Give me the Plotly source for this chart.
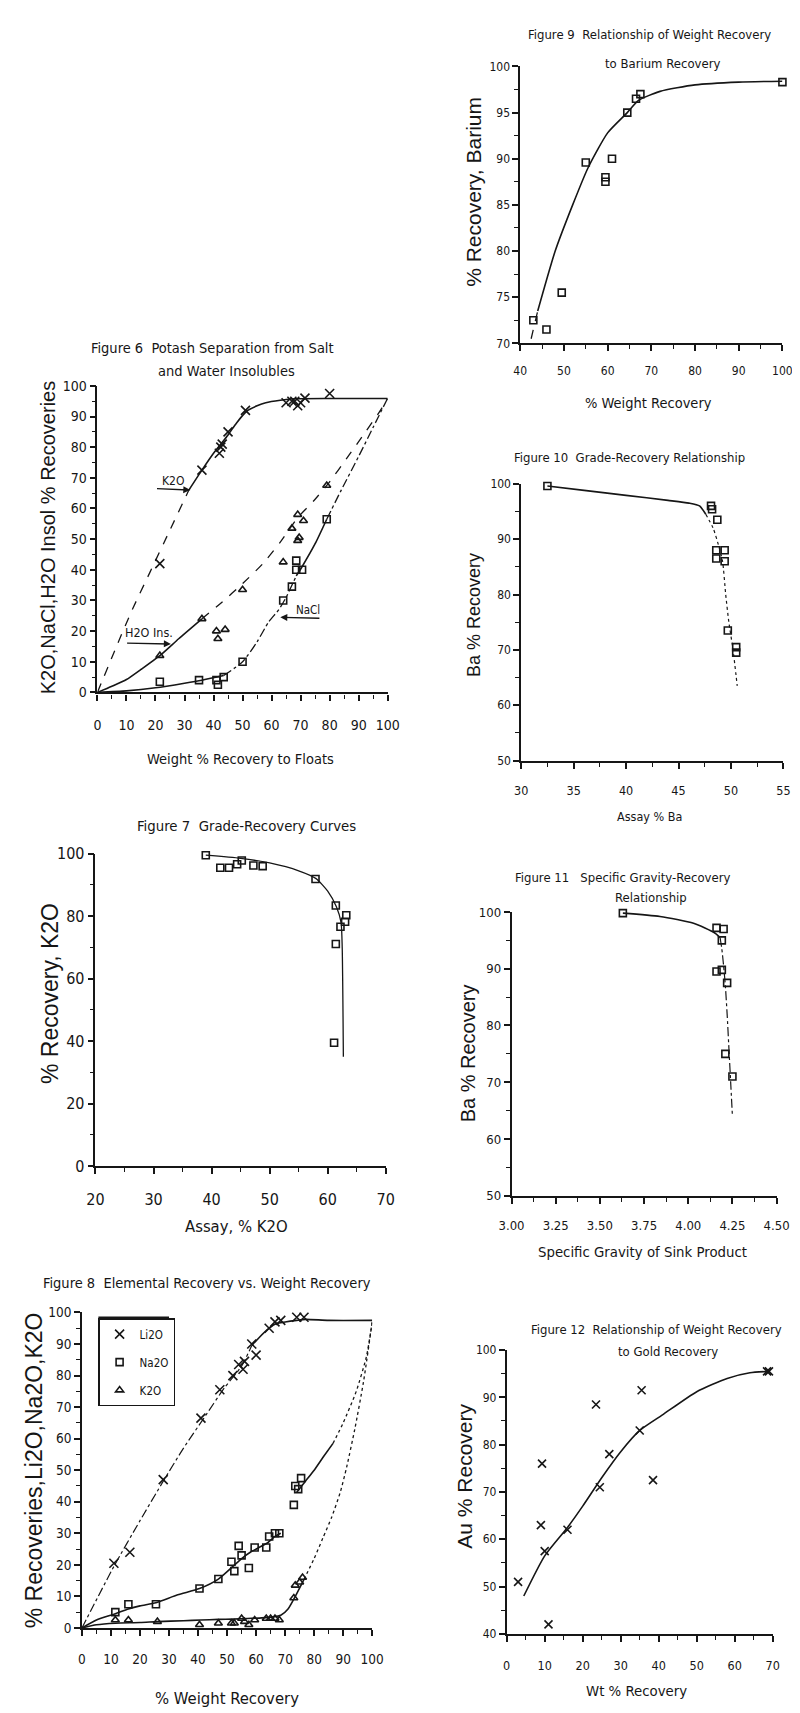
import plotly.graph_objects as go

W, H = 800, 1713
NARROW = "DejaVu Sans Condensed, Liberation Sans Narrow, Liberation Sans, Arial, sans-serif"
REG = "Liberation Sans, Arial, sans-serif"
INK = "#161616"

# ---------------- Figure 6: Potash separation ----------------
f6_k2o_x = [21.5, 36, 42, 42.5, 43, 45, 51, 65, 67, 68, 69, 70, 71.5, 80]
f6_k2o_y = [42, 72.5, 78, 80, 81, 85, 92, 94.5, 95, 95, 93.5, 94.5, 96, 97.5]
f6_h2o_x = [21.5, 36, 41, 41.5, 44, 50, 64, 67, 69, 71, 69, 69.5, 79]
f6_h2o_y = [12, 24, 20, 17.5, 20.5, 33.5, 42.5, 53.5, 58, 56, 49.5, 50.5, 67.5]
f6_nacl_x = [21.5, 35, 41, 41.5, 43.5, 50, 64, 67, 68.5, 68.5, 70.5, 79]
f6_nacl_y = [3.5, 4, 4, 2.5, 5, 10, 30, 34.5, 43, 40, 40, 56.5]
f6_k2o_fit_dash_x = [0, 7, 12, 18, 25, 31.5]
f6_k2o_fit_dash_y = [0, 16, 27, 39, 53, 66]
f6_k2o_fit_x = [31.5, 36, 40, 45, 48, 51.5, 55, 58, 63, 68, 80, 100]
f6_k2o_fit_y = [66, 72.5, 78, 84, 88, 91.8, 93.5, 94.5, 95.3, 95.8, 95.9, 95.9]
f6_h2o_fit_x = [0, 5, 10, 15, 21.5, 28, 36]
f6_h2o_fit_y = [0, 2, 4.2, 7.5, 12, 17.5, 24]
f6_h2o_fit_dash_x = [36, 43, 50, 57, 63, 69, 75, 80, 86, 92, 97, 100]
f6_h2o_fit_dash_y = [24, 29.5, 35.5, 42, 49, 57, 63, 68.7, 76.5, 84.5, 91.3, 95.8]
f6_nacl_fit_x = [0, 10, 20, 30, 36, 43.5]
f6_nacl_fit_y = [0, 0.5, 1.5, 3, 4, 5.5]
f6_nacl_fit_dd_x = [43.5, 50, 55, 59, 62.5, 65, 68.5]
f6_nacl_fit_dd_y = [5.5, 10, 16.5, 23, 27, 31, 38]
f6_nacl_fit2_x = [68.5, 70.5, 75, 79]
f6_nacl_fit2_y = [38, 41, 48.5, 56.5]
f6_nacl_fit_dd2_x = [79, 84, 90, 95, 100]
f6_nacl_fit_dd2_y = [56.5, 66, 77, 86.5, 96]

# ---------------- Figure 7: Grade-recovery K2O ----------------
f7_assay = [39, 41.5, 43, 44.4, 45.2, 47.2, 48.8, 57.9, 61.4, 62.2, 63.2, 63.0, 61.4, 61.1]
f7_recovery = [99.5, 95.5, 95.5, 96.6, 97.8, 96.2, 96.0, 91.9, 83.4, 76.6, 80.3, 78.2, 71.1, 39.5]
f7_fit_x = [39, 45, 50, 55, 58, 60, 61.5, 62.3, 62.5, 62.7]
f7_fit_y = [99.5, 98.5, 97, 94.5, 92, 88, 83, 78, 70, 35]

# ---------------- Figure 8: Elemental recovery ----------------
f8_li2o_x = [11, 16.5, 28, 41, 47.5, 52, 54, 55.5, 56, 58.5, 60, 64.5, 66.5, 68.5, 74, 76.5]
f8_li2o_y = [20.5, 24, 47, 66.5, 75.5, 80, 83.5, 82, 84.5, 90, 86.5, 95, 97, 97.5, 98.5, 98.5]
f8_na2o_x = [11.5, 16, 25.5, 40.5, 47, 51.5, 52.5, 54, 55, 57.5, 59.5, 63.5, 64.5, 66.5, 68, 73, 73.5, 74.5, 75.5]
f8_na2o_y = [5, 7.5, 7.5, 12.5, 15.5, 21, 18, 26, 23, 19, 25.5, 25.5, 29, 30, 30, 39, 45, 44, 47.5]
f8_k2o_x = [11.5, 16, 26, 40.5, 47, 51.5, 52.5, 55, 56, 57.5, 59.5, 63.5, 65, 66.5, 68, 73, 73.5, 75, 76]
f8_k2o_y = [2.5, 2.5, 2, 1, 1.5, 1.5, 1.5, 3, 2, 1, 2.5, 3, 3, 3, 2.5, 9.5, 13.5, 14.5, 16]
f8_li2o_fit_dd_x = [0, 11, 20, 28, 35, 42, 49, 55, 58.5]
f8_li2o_fit_dd_y = [0, 19.5, 34, 46.5, 57, 66.5, 76, 83, 89.5]
f8_li2o_fit_x = [58.5, 61, 64.5, 67, 70, 74, 77, 85, 100]
f8_li2o_fit_y = [89.5, 92, 95, 96.5, 97, 97.5, 97.8, 97.5, 97.5]
f8_na2o_fit_x = [0, 5, 11.5, 16, 20, 25.5, 33, 40.5, 47, 52, 55, 58, 61, 64, 66.5, 68.5]
f8_na2o_fit_y = [0, 2.5, 4.5, 6, 7, 8, 10.5, 12.5, 15.5, 19.5, 22, 24, 25.5, 27, 29, 30]
f8_na2o_fit2_x = [74, 77, 80, 83, 86.5]
f8_na2o_fit2_y = [43, 46.5, 50, 54, 58.5]
f8_na2o_fit_dash_x = [86.5, 90, 94.5, 98, 100]
f8_na2o_fit_dash_y = [58.5, 65, 75, 86, 97]
f8_k2o_fit_x = [0, 5, 11.5, 20, 26, 35, 41, 47, 52, 57, 62, 66, 68.5, 71, 73.5, 76.5]
f8_k2o_fit_y = [0, 1, 1.5, 1.7, 2, 2.3, 2.5, 2.7, 2.8, 3, 3.2, 3.5, 4, 6, 10, 15.4]
f8_k2o_fit_dash_x = [76.5, 80, 83, 86, 89, 91.2, 94, 97, 100]
f8_k2o_fit_dash_y = [15.4, 22, 28.5, 35, 43, 51, 63, 78, 97]

# ---------------- Figure 9: Weight recovery vs barium recovery ----------------
f9_wt = [43, 46, 49.5, 55, 59.5, 59.5, 61, 64.5, 66.5, 67.5, 100]
f9_ba = [72.5, 71.5, 75.5, 89.6, 88, 87.5, 90, 95, 96.5, 97, 98.3]
f9_fit_dash_x = [42.5, 44]
f9_fit_dash_y = [70.5, 73.5]
f9_fit_x = [44, 48, 52, 55.5, 60, 64.5, 67, 72, 80, 90, 100]
f9_fit_y = [73.5, 80, 85, 89, 92.8, 95, 96.3, 97.3, 98, 98.3, 98.4]

# ---------------- Figure 10: Grade-recovery Ba ----------------
f10_assay = [32.5, 48.1, 48.2, 48.7, 48.6, 48.6, 49.4, 49.4, 49.7, 50.5, 50.5]
f10_recovery = [99.6, 96, 95.4, 93.5, 88, 86.5, 88, 86, 73.5, 70.5, 69.5]
f10_fit_x = [32.5, 36, 40, 44, 46, 47, 47.6]
f10_fit_y = [99.6, 98.8, 97.9, 97, 96.5, 96, 94.5]
f10_fit_dot_x = [47.6, 48.3, 48.8, 49.2, 49.5, 49.8, 50.2, 50.6]
f10_fit_dot_y = [94.5, 92, 89, 86, 80, 75, 70, 63.5]

# ---------------- Figure 11: Specific gravity vs recovery ----------------
f11_sg = [3.63, 4.16, 4.20, 4.19, 4.16, 4.19, 4.22, 4.21, 4.25]
f11_recovery = [99.8, 97.2, 97.0, 95.0, 89.5, 89.8, 87.5, 75.0, 71.0]
f11_fit_x = [3.63, 3.84, 4.03, 4.15, 4.18]
f11_fit_y = [99.8, 99.2, 98.0, 96.3, 95.5]
f11_fit_dd_x = [4.18, 4.19, 4.20, 4.21, 4.22, 4.23, 4.24, 4.25]
f11_fit_dd_y = [95.5, 93.5, 90.5, 87, 82, 76, 70, 64]

# ---------------- Figure 12: Weight recovery vs gold recovery ----------------
f12_wt = [69, 68.5, 35, 27, 24.5, 38.5, 9.3, 9, 10, 16, 3, 11, 23.5, 35.5]
f12_au = [95.5, 95.5, 83, 78, 71, 72.5, 76, 63, 57.5, 62, 51, 42, 88.5, 91.5]
f12_fit_x = [4.5, 10, 16, 20, 25, 30, 35, 41, 50, 58, 64, 69]
f12_fit_y = [48, 56.5, 62.5, 67, 73, 78.5, 83, 86.3, 91.2, 94, 95.2, 95.5]

fig = go.Figure()


def px(x):
    return x / W


def py(y):
    return 1 - y / H


def line(x, y, xa, ya, dash="solid", width=1.6):
    fig.add_trace(go.Scatter(x=x, y=y, xaxis=xa, yaxis=ya, mode="lines",
                             line=dict(color=INK, width=width, dash=dash, shape="spline", smoothing=0.6),
                             showlegend=False, hoverinfo="skip"))


def pts(x, y, xa, ya, symbol, size=8, name=None, legend=False, group=None):
    fig.add_trace(go.Scatter(x=x, y=y, xaxis=xa, yaxis=ya, mode="markers", name=name,
                             marker=dict(symbol=symbol, size=size, color=INK,
                                         line=dict(color=INK, width=1.6)),
                             showlegend=legend, legendgroup=group, cliponaxis=False))


# Figure 6 traces
line(f6_k2o_fit_dash_x, f6_k2o_fit_dash_y, "x", "y", "dash", 1.3)
line(f6_k2o_fit_x, f6_k2o_fit_y, "x", "y")
line(f6_h2o_fit_x, f6_h2o_fit_y, "x", "y")
line(f6_h2o_fit_dash_x, f6_h2o_fit_dash_y, "x", "y", "dash", 1.3)
line(f6_nacl_fit_x, f6_nacl_fit_y, "x", "y")
line(f6_nacl_fit_dd_x, f6_nacl_fit_dd_y, "x", "y", "dashdot", 1.3)
line(f6_nacl_fit2_x, f6_nacl_fit2_y, "x", "y")
line(f6_nacl_fit_dd2_x, f6_nacl_fit_dd2_y, "x", "y", "dashdot", 1.3)
pts(f6_k2o_x, f6_k2o_y, "x", "y", "x-thin-open", 9)
pts(f6_h2o_x, f6_h2o_y, "x", "y", "triangle-up-open", 7)
pts(f6_nacl_x, f6_nacl_y, "x", "y", "square-open", 7)

# Figure 7
line(f7_fit_x, f7_fit_y, "x2", "y2", "solid", 1.3)
pts(f7_assay, f7_recovery, "x2", "y2", "square-open", 7)

# Figure 8
line(f8_li2o_fit_dd_x, f8_li2o_fit_dd_y, "x3", "y3", "dashdot", 1.2)
line(f8_li2o_fit_x, f8_li2o_fit_y, "x3", "y3")
line(f8_na2o_fit_x, f8_na2o_fit_y, "x3", "y3")
line(f8_na2o_fit2_x, f8_na2o_fit2_y, "x3", "y3")
line(f8_na2o_fit_dash_x, f8_na2o_fit_dash_y, "x3", "y3", "dot", 1.3)
line(f8_k2o_fit_x, f8_k2o_fit_y, "x3", "y3")
line(f8_k2o_fit_dash_x, f8_k2o_fit_dash_y, "x3", "y3", "dot", 1.3)
pts(f8_li2o_x, f8_li2o_y, "x3", "y3", "x-thin-open", 9, "Li2O", True, "a")
pts(f8_na2o_x, f8_na2o_y, "x3", "y3", "square-open", 7, "Na2O", True, "b")
pts(f8_k2o_x, f8_k2o_y, "x3", "y3", "triangle-up-open", 7, "K2O", True, "c")

# Figure 9
line(f9_fit_dash_x, f9_fit_dash_y, "x4", "y4", "dash", 1.3)
line(f9_fit_x, f9_fit_y, "x4", "y4")
pts(f9_wt, f9_ba, "x4", "y4", "square-open", 7)

# Figure 10
line(f10_fit_x, f10_fit_y, "x5", "y5")
line(f10_fit_dot_x, f10_fit_dot_y, "x5", "y5", "dot", 1.2)
pts(f10_assay, f10_recovery, "x5", "y5", "square-open", 7)

# Figure 11
line(f11_fit_x, f11_fit_y, "x6", "y6")
line(f11_fit_dd_x, f11_fit_dd_y, "x6", "y6", "dashdot", 1.2)
pts(f11_sg, f11_recovery, "x6", "y6", "square-open", 7)

# Figure 12
line(f12_fit_x, f12_fit_y, "x7", "y7")
pts(f12_wt, f12_au, "x7", "y7", "x-thin-open", 8)


def xaxis(dom_px, rng, dtick, minor, anchor, size, standoff, fmt=None, lw=2.2):
    d = dict(domain=[px(dom_px[0]), px(dom_px[1])], range=rng, anchor=anchor,
             showline=True, linecolor=INK, linewidth=lw, showgrid=False, zeroline=False,
             ticks="outside", ticklen=6, tickwidth=1.5, tickcolor=INK, dtick=dtick, tick0=rng[0],
             minor=dict(ticks="outside", ticklen=4, tickwidth=1.2, tickcolor=INK, dtick=minor, tick0=rng[0]),
             tickfont=dict(family=NARROW, size=size, color=INK), ticklabelstandoff=standoff,
             fixedrange=True)
    if fmt:
        d["tickformat"] = fmt
    return d


def yaxis(dom_py, rng, dtick, minor, anchor, size, lw=1.6):
    return dict(domain=[py(dom_py[0]), py(dom_py[1])], range=rng, anchor=anchor,
                showline=True, linecolor=INK, linewidth=lw, showgrid=False, zeroline=False,
                ticks="outside", ticklen=6, tickwidth=1.5, tickcolor=INK, dtick=dtick, tick0=rng[0],
                minor=dict(ticks="outside", ticklen=4, tickwidth=1.2, tickcolor=INK, dtick=minor, tick0=rng[0]),
                tickfont=dict(family=NARROW, size=size, color=INK), fixedrange=True)


layout_axes = dict(
    xaxis=xaxis((79, 379), [0, 100], 10, 5, "y", 14, 13),
    yaxis=yaxis((683, 373), [0, 100], 10, 5, "x", 14),
    xaxis2=xaxis((77, 377), [20, 70], 10, 5, "y2", 16, 12),
    yaxis2=yaxis((1162, 846), [0, 100], 20, 10, "x2", 16),
    xaxis3=xaxis((63, 363), [0, 100], 10, 5, "y3", 13.5, 12),
    yaxis3=yaxis((1629, 1310), [0, 100], 10, 5, "x3", 13.5),
    xaxis4=xaxis((516, 787), [40, 100], 10, 5, "y4", 12, 9),
    yaxis4=yaxis((330, 50), [70, 100], 5, 2.5, "x4", 12),
    xaxis5=xaxis((517, 788), [30, 55], 5, 2.5, "y5", 12.5, 11),
    yaxis5=yaxis((752, 472), [50, 100], 10, 5, "x5", 12),
    xaxis6=xaxis((507, 781), [3, 4.5], 0.25, 0.125, "y6", 13, 11, ".2f"),
    yaxis6=yaxis((1192, 905), [50, 100], 10, 5, "x6", 13),
    xaxis7=xaxis((502, 777), [0, 70], 10, 5, "y7", 12.5, 13),
    yaxis7=yaxis((1635, 1348), [40, 100], 10, 5, "x7", 12),
)

ann = []


def text(t, x, y, size, family=NARROW, angle=0):
    ann.append(dict(text=t, x=px(x), y=py(y), xref="paper", yref="paper", showarrow=False,
                    font=dict(family=family, size=size, color=INK), textangle=angle,
                    xanchor="center", yanchor="middle"))


# chart titles
text("Figure 6  Potash Separation from Salt", 198, 335, 14.5)
text("and Water Insolubles", 212, 358, 14.5)
text("Figure 7  Grade-Recovery Curves", 233, 818, 14.8)
text("Figure 8  Elemental Recovery vs. Weight Recovery", 192, 1280, 14.5)
text("Figure 9  Relationship of Weight Recovery", 650, 18, 13)
text("to Barium Recovery", 663, 47, 13)
text("Figure 10  Grade-Recovery Relationship", 629, 445, 13)
text("Figure 11   Specific Gravity-Recovery", 622, 870, 13)
text("Relationship", 651, 890, 13)
text("Figure 12  Relationship of Weight Recovery", 657, 1327, 13)
text("to Gold Recovery", 669, 1349, 13)

# axis titles
text("Weight % Recovery to Floats", 227, 750, 14.5)
text("K2O,NaCl,H2O Insol % Recoveries", 28, 527, 20, REG, -90)
text("Assay, % K2O", 223, 1223, 16.5)
text("% Recovery, K2O", 30, 988, 23, REG, -90)
text("% Weight Recovery", 213, 1700, 16.5)
text("% Recoveries,Li2O,Na2O,K2O", 13, 1470, 23, REG, -90)
text("% Weight Recovery", 649, 390, 14.5)
text("% Recovery, Barium", 467, 177, 21, REG, -90)
text("Assay % Ba", 650, 808, 12.5)
text("Ba % Recovery", 469, 605, 18, REG, -90)
text("Specific Gravity of Sink Product", 642, 1248, 14.8)
text("Ba % Recovery", 462, 1048, 20, REG, -90)
text("Wt % Recovery", 636, 1692, 14.8)
text("Au % Recovery", 459, 1476, 21, REG, -90)

# Figure 6 curve labels and arrows
for t, x, y, s in [("K2O", 26, 69, 12), ("H2O Ins.", 17.7, 19.7, 12.5), ("NaCl", 72.7, 27, 11.5)]:
    ann.append(dict(text=t, x=x, y=y, xref="x", yref="y", showarrow=False,
                    font=dict(family=NARROW, size=s, color=INK)))
for hx, hy, tx, ty in [(32, 66, 20, 66.5), (25.3, 15.8, 9.7, 16.1), (63, 24.5, 77, 24.2)]:
    ann.append(dict(text="", x=hx, y=hy, ax=tx, ay=ty, xref="x", yref="y", axref="x", ayref="y",
                    showarrow=True, arrowhead=2, arrowsize=1, arrowwidth=1.4, arrowcolor=INK))

fig.update_layout(
    width=W, height=H, margin=dict(l=0, r=0, t=0, b=0),
    paper_bgcolor="white", plot_bgcolor="white",
    annotations=ann,
    legend=dict(x=px(80), y=py(1316), xanchor="left", yanchor="top",
                bordercolor=INK, borderwidth=1.2, bgcolor="white",
                font=dict(family=NARROW, size=11.5, color=INK),
                traceorder="grouped", tracegroupgap=9, itemwidth=30),
    shapes=[dict(type="line", xref="paper", yref="paper", x0=px(80), x1=px(153),
                 y0=py(1316), y1=py(1316), line=dict(color=INK, width=4))],
    **layout_axes,
)

fig.write_html("out.html")
